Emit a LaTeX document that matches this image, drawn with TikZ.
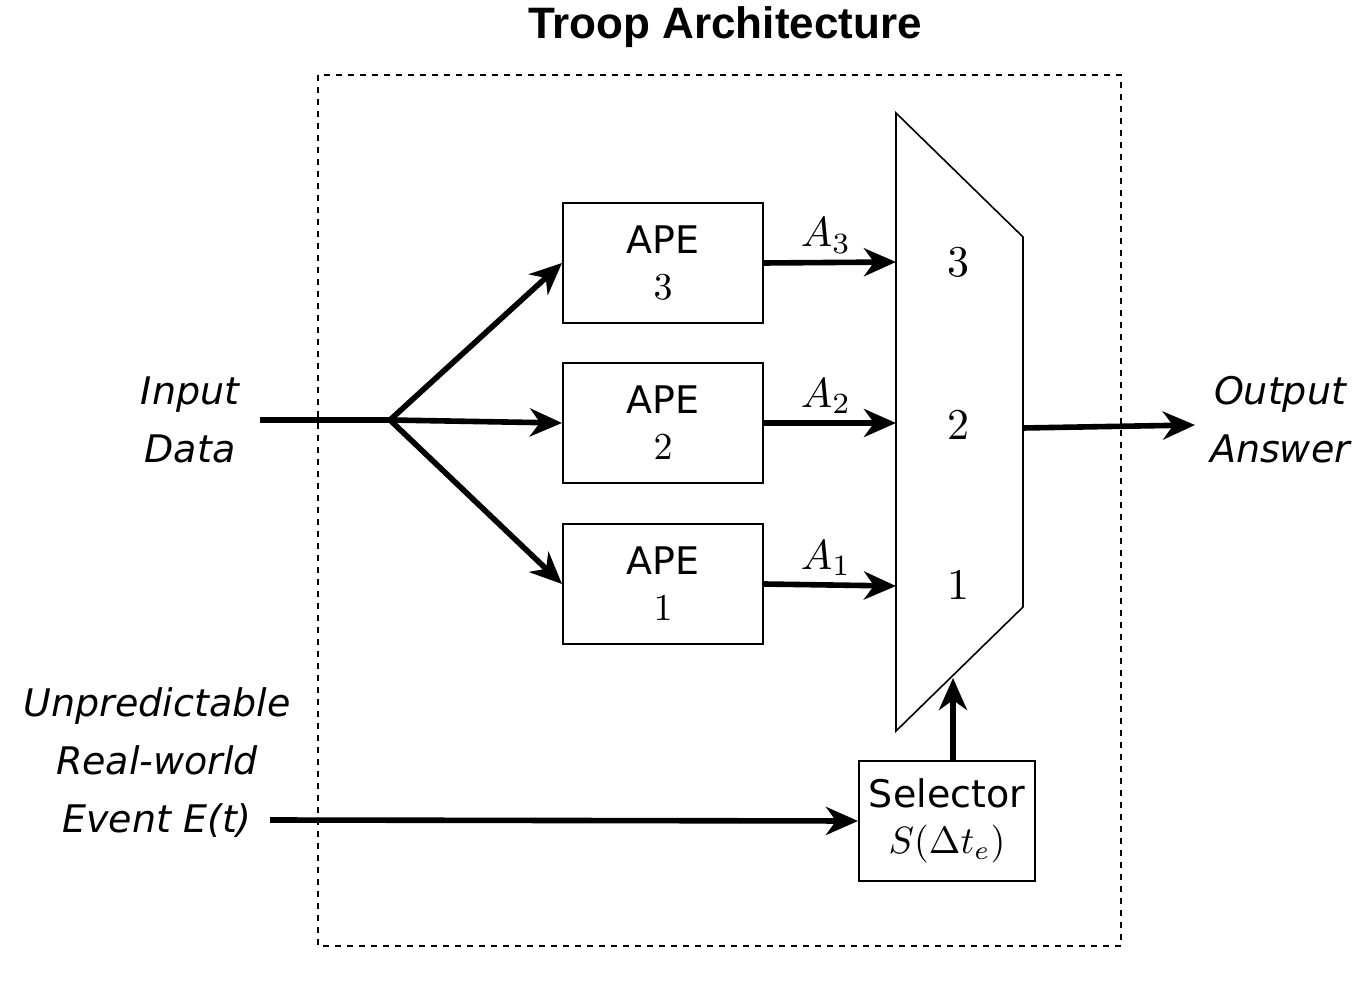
\documentclass[tikz,border=0pt]{standalone}
\usepackage{graphicx}
\usepackage{fontspec}
\setmainfont{DejaVu Sans}
\newfontfamily\titlefont{Liberation Sans}
\usetikzlibrary{arrows.meta}
\newcommand{\bigmath}[2][1.9]{\scalebox{#1}{\normalsize$#2$}}
\tikzset{
  apebox/.style={draw, line width=1pt, minimum width=100pt, minimum height=60pt, inner sep=0pt, align=center, font=\fontsize{19}{21}\selectfont},
  lbl/.style={align=center, font=\fontsize{19}{29}\selectfont\itshape},
  flow/.style={line width=2.8pt, -{Stealth[length=16pt,width=14pt,inset=5pt]}},
  alab/.style={above, xshift=-2pt},
}
\begin{document}
\begin{tikzpicture}[x=0.5pt,y=-0.5pt]
\useasboundingbox (0,0) rectangle (1370,988);

%Dashed frame
\draw [dashed, line width=0.8pt] (318,75) rectangle (1121,946);
\node (title) at (725,27) {\titlefont\bfseries\fontsize{22}{24}\selectfont Troop Architecture};

%APE boxes
\node [apebox] (ape3) at (663,263) {APE\\[2pt]\bigmath{3}};
\node [apebox] (ape2) at (663,423) {APE\\[2pt]\bigmath{2}};
\node [apebox] (ape1) at (663,584) {APE\\[2pt]\bigmath{1}};

%Multiplexer
\draw [line width=0.8pt] (896,113) -- (1023,237) -- (1023,607) -- (896,731) -- cycle;
\node (m3) at (958,262) {\bigmath[2.2]{3}};
\node (m2) at (958,425) {\bigmath[2.2]{2}};
\node (m1) at (958,585) {\bigmath[2.2]{1}};
\coordinate (in3) at (896,262);
\coordinate (in2) at (896,423);
\coordinate (in1) at (896,586);
\coordinate (sel) at (953,678);
\coordinate (out) at (1023,428);

%Selector
\node [apebox, minimum width=88pt] (selector) at (947,821) {Selector\\[2pt]\bigmath{S(\Delta t_e)}};

%Labels
\node [lbl] (input) at (190,420) {Input\\Data};
\node [lbl] (output) at (1280,420) {Output\\Answer};
\node [lbl] (event) at (157,763) {Unpredictable\\Real-world\\Event E(t)};
\coordinate (instart) at (260,420);
\coordinate (split) at (390,420);
\coordinate (evstart) at (270,820);
\coordinate (outend) at (1195,425);

%Connectors
\draw [line width=2.8pt] (instart) -- (split);
\draw [flow] (split) -- (ape3.west);
\draw [flow] (split) -- (ape2.west);
\draw [flow] (split) -- (ape1.west);
\draw [flow] (ape3.east) -- node [alab] {\bigmath[2.1]{A_3}} (in3);
\draw [flow] (ape2.east) -- node [alab] {\bigmath[2.1]{A_2}} (in2);
\draw [flow] (ape1.east) -- node [alab] {\bigmath[2.1]{A_1}} (in1);
\draw [flow] (out) -- (outend);
\draw [flow] (evstart) -- (selector.west);
\draw [flow] (selector.north -| sel) -- (sel);
\end{tikzpicture}
\end{document}
